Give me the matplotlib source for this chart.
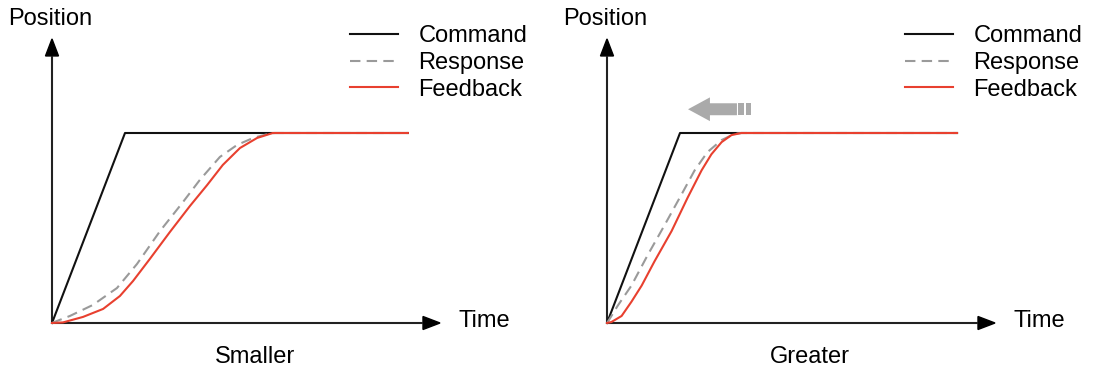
import matplotlib
matplotlib.use("Agg")
import matplotlib.pyplot as plt
from matplotlib.patches import FancyArrow, Rectangle, Polygon

plt.rcParams['font.family'] = ['Liberation Sans', 'DejaVu Sans']

# ---- data (time units, normalized position) ----
panel_titles = ["Smaller", "Greater"]
series_names = ["Command", "Response", "Feedback"]

left_cmd_t = [0, 2.0, 9.75]
left_cmd_p = [0, 1.0, 1.0]
left_resp_t = [0, 0.14, 0.49, 1.12, 1.78, 2.33, 2.96, 3.59, 4.05, 4.60,
               5.07, 5.51, 5.92, 6.10, 9.75]
left_resp_p = [0, 0.011, 0.037, 0.095, 0.184, 0.311, 0.484, 0.637, 0.753,
               0.874, 0.937, 0.974, 0.995, 1.0, 1.0]
left_fb_t = [0, 0.30, 0.85, 1.40, 1.86, 2.22, 2.68, 3.23, 3.78, 4.25, 4.68,
             5.15, 5.62, 6.05, 9.75]
left_fb_p = [0, 0.003, 0.032, 0.074, 0.142, 0.221, 0.337, 0.479, 0.616,
             0.726, 0.832, 0.921, 0.974, 1.0, 1.0]

right_cmd_t = [0, 2.0, 9.59]
right_cmd_p = [0, 1.0, 1.0]
right_resp_t = [0, 0.07, 0.29, 0.67, 1.11, 1.58, 2.04, 2.40, 2.75, 3.14,
                3.49, 3.68, 9.59]
right_resp_p = [0, 0.021, 0.090, 0.197, 0.356, 0.516, 0.676, 0.803, 0.899,
                0.963, 0.995, 1.0, 1.0]
right_fb_t = [0, 0.12, 0.40, 0.67, 0.95, 1.30, 1.77, 2.21, 2.59, 2.86, 3.14,
              3.41, 3.68, 9.59]
right_fb_p = [0, 0.005, 0.037, 0.112, 0.197, 0.324, 0.484, 0.660, 0.803,
              0.888, 0.952, 0.989, 1.0, 1.0]

CMD_C = "#111111"
RESP_C = "#9a9a9a"
FB_C = "#e8402f"
LW = 1.5
FS = 17

W, H = 1100, 376
fig = plt.figure(figsize=(W / 100, H / 100), dpi=100)

XMAX, YMAX = 11.0, 1.5
PX_T = 36.5     # px per time unit
PX_P = 190.0    # px per position unit


def make_panel(x0_px, y0_px, cmd, resp, fb, title, xarrow_tip):
    ax = fig.add_axes([x0_px / W, (H - y0_px) / H,
                       XMAX * PX_T / W, YMAX * PX_P / H])
    ax.set_xlim(0, XMAX)
    ax.set_ylim(0, YMAX)
    ax.axis("off")

    # axes with arrow heads
    hl_x = 17 / PX_T
    hw_x = 13 / PX_P
    hl_y = 17 / PX_P
    hw_y = 13 / PX_T
    ax.plot([0, xarrow_tip - hl_x], [0, 0], color="#222222", lw=1.5,
            solid_capstyle="butt", clip_on=False)
    ax.add_patch(Polygon([[xarrow_tip, 0], [xarrow_tip - hl_x, hw_x / 2],
                          [xarrow_tip - hl_x, -hw_x / 2]], closed=True,
                         color="black", clip_on=False))
    ytip = 1.495
    ax.plot([0, 0], [0, ytip - hl_y], color="#222222", lw=1.5,
            solid_capstyle="butt", clip_on=False)
    ax.add_patch(Polygon([[0, ytip], [hw_y / 2, ytip - hl_y],
                          [-hw_y / 2, ytip - hl_y]], closed=True,
                         color="black", clip_on=False))

    l1, = ax.plot(cmd[0], cmd[1], color=CMD_C, lw=LW, clip_on=False,
                  label=series_names[0])
    l2, = ax.plot(resp[0], resp[1], color=RESP_C, lw=LW, dashes=(5, 3),
                  clip_on=False, label=series_names[1])
    l3, = ax.plot(fb[0], fb[1], color=FB_C, lw=LW, clip_on=False,
                  label=series_names[2])

    ax.text(-0.05, 1.60, "Position", fontsize=FS, ha="center", va="center")
    ax.text(xarrow_tip + 0.5, 0.01, "Time", fontsize=FS, ha="left",
            va="center")
    ax.text(5.55, -0.18, title, fontsize=FS, ha="center", va="center")

    ax.legend(handles=[l1, l2, l3], loc="upper left",
              bbox_to_anchor=(8.16 / XMAX, 1.568 / YMAX),
              frameon=False, fontsize=FS, handlelength=2.05,
              handletextpad=0.85, labelspacing=0.2,
              borderpad=0, borderaxespad=0)
    return ax


make_panel(52, 323, (left_cmd_t, left_cmd_p), (left_resp_t, left_resp_p),
           (left_fb_t, left_fb_p), panel_titles[0], 10.63)
axr = make_panel(607, 323, (right_cmd_t, right_cmd_p),
                 (right_resp_t, right_resp_p),
                 (right_fb_t, right_fb_p), panel_titles[1], 10.63)

# big gray arrow pointing left (shift toward faster response)
GRAY = "#aaaaaa"
axr.add_patch(FancyArrow(3.56, 1.125, -1.34, 0, width=0.063,
                         head_width=0.125, head_length=0.60,
                         length_includes_head=True, color=GRAY, lw=0,
                         clip_on=False))
axr.add_patch(Rectangle((3.60, 1.0935), 0.14, 0.063, color=GRAY, lw=0,
                        clip_on=False))
axr.add_patch(Rectangle((3.81, 1.0935), 0.13, 0.063, color=GRAY, lw=0,
                        clip_on=False))

fig.savefig("out.png", dpi=100)
